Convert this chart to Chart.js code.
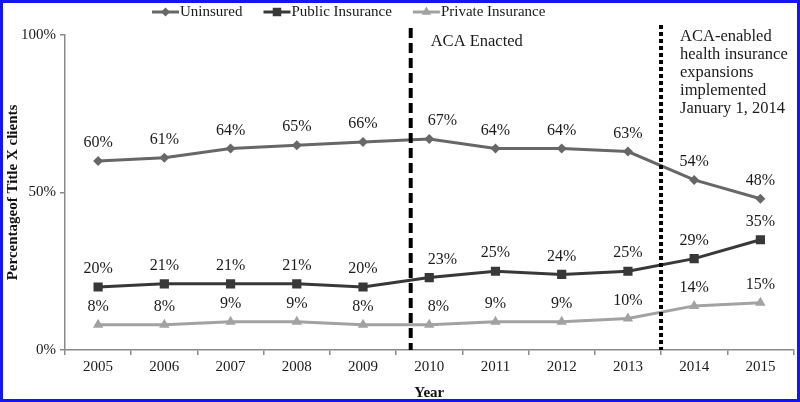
<!DOCTYPE html>
<html>
<head>
<meta charset="utf-8">
<script src="https://cdn.jsdelivr.net/npm/chart.js@4"></script>
<style>
html,body{margin:0;padding:0;background:#fff;}
#wrap{position:relative;width:800px;height:402px;overflow:hidden;}
#frame{position:absolute;left:0;top:0;width:800px;height:402px;box-sizing:border-box;border:3px solid #1414f5;pointer-events:none;}
canvas{display:block;}
</style>
</head>
<body>
<div id="wrap"><canvas id="c" width="800" height="402"></canvas><div id="frame"></div></div>
<script>
// ---- data ----
const years = ['2005','2006','2007','2008','2009','2010','2011','2012','2013','2014','2015'];
const uninsured = [60, 61, 64, 65, 66, 67, 64, 64, 63, 54, 48];
const publicInsurance = [20, 21, 21, 21, 20, 23, 25, 24, 25, 29, 35];
const privateInsurance = [8, 8, 9, 9, 8, 8, 9, 9, 10, 14, 15];
const seriesNames = ['Uninsured', 'Public Insurance', 'Private Insurance'];
const yTickValues = [0, 50, 100];
const acaEnactedIndex = 4.72;      // between 2009 and 2010
const acaEnactedText = ['ACA Enacted'];
const expansionIndex = 8.5;        // between 2013 and 2014
const expansionText = ['ACA-enabled', 'health insurance', 'expansions', 'implemented', 'January 1, 2014'];

// ---- styles ----
const serif = '"Liberation Serif", "Times New Roman", serif';
const colors = ['#676767', '#383838', '#a2a2a2'];
const markers = ['rectRot', 'rect', 'triangle'];
const radii = [5, 6.5, 6];
const axisColor = '#8a8a8a';
let lineXs = [];

function drawMarker(ctx, style, x, y, r) {
  ctx.beginPath();
  if (style === 'rectRot') {
    ctx.moveTo(x, y - r); ctx.lineTo(x + r, y); ctx.lineTo(x, y + r); ctx.lineTo(x - r, y);
  } else if (style === 'rect') {
    const s = r * Math.SQRT1_2;
    ctx.rect(x - s, y - s, 2 * s, 2 * s);
  } else {
    const w = r * Math.sqrt(3) / 2;
    ctx.moveTo(x, y - r); ctx.lineTo(x + w, y + r / 2); ctx.lineTo(x - w, y + r / 2);
  }
  ctx.closePath();
  ctx.fill();
}

const legendPlugin = {
  id: 'customLegend',
  afterDraw(chart) {
    const ctx = chart.ctx;
    ctx.save();
    ctx.font = '15px ' + serif;
    ctx.textBaseline = 'middle';
    ctx.textAlign = 'left';
    let x = 152;
    const y = 12;
    chart.data.datasets.forEach((ds, i) => {
      ctx.strokeStyle = colors[i];
      ctx.fillStyle = colors[i];
      ctx.lineWidth = 3;
      ctx.beginPath(); ctx.moveTo(x, y); ctx.lineTo(x + 27, y); ctx.stroke();
      drawMarker(ctx, markers[i], x + 13.5, y, radii[i] - 0.5);
      ctx.fillStyle = '#1a1a1a';
      ctx.fillText(ds.label, x + 28, y);
      x += 28 + ctx.measureText(ds.label).width + 21;
    });
    ctx.restore();
  }
};

const annotationPlugin = {
  id: 'acaLines',
  afterDatasetsDraw(chart) {
    const ctx = chart.ctx;
    const xs = chart.scales.x;
    const area = chart.chartArea;
    const posAt = (idx) => {
      const i0 = Math.floor(idx);
      const p0 = xs.getPixelForValue(i0), p1 = xs.getPixelForValue(i0 + 1);
      return p0 + (idx - i0) * (p1 - p0);
    };
    const items = [
      { x: posAt(acaEnactedIndex), top: area.top - 7, dash: [10, 5], text: acaEnactedText, tx: 20, ty: 7 },
      { x: posAt(expansionIndex), top: area.top - 10, dash: [4, 3], text: expansionText, tx: 19, ty: 2 }
    ];
    lineXs = items.map(it => it.x);
    ctx.save();
    items.forEach(it => {
      ctx.strokeStyle = '#000';
      ctx.lineWidth = 4;
      ctx.setLineDash(it.dash);
      ctx.beginPath(); ctx.moveTo(it.x, it.top); ctx.lineTo(it.x, area.bottom); ctx.stroke();
      ctx.setLineDash([]);
      ctx.fillStyle = '#1a1a1a';
      ctx.font = '16.5px ' + serif;
      ctx.textAlign = 'left';
      ctx.textBaseline = 'middle';
      it.text.forEach((t, k) => ctx.fillText(t, it.x + it.tx, area.top + it.ty + k * 18));
    });
    ctx.restore();
  }
};

const dataLabelPlugin = {
  id: 'valueLabels',
  afterDatasetsDraw(chart) {
    const ctx = chart.ctx;
    ctx.save();
    ctx.font = '16px ' + serif;
    ctx.fillStyle = '#1a1a1a';
    ctx.textAlign = 'center';
    ctx.textBaseline = 'middle';
    chart.data.datasets.forEach((ds, i) => {
      const meta = chart.getDatasetMeta(i);
      meta.data.forEach((pt, j) => {
        const txt = ds.data[j] + '%';
        const w = ctx.measureText(txt).width;
        let cx = pt.x;
        lineXs.forEach(lx => {
          const d = pt.x - lx;
          if (d > 0 && d < 25 && cx - w / 2 < lx + 17) cx = lx + 17 + w / 2;
        });
        ctx.fillText(txt, cx, pt.y - 18);
      });
    });
    ctx.restore();
  }
};

const seriesData = [uninsured, publicInsurance, privateInsurance];

new Chart(document.getElementById('c'), {
  type: 'line',
  data: {
    labels: years,
    datasets: seriesData.map((d, i) => ({
      label: seriesNames[i],
      data: d,
      borderColor: colors[i],
      backgroundColor: colors[i],
      pointBackgroundColor: colors[i],
      pointBorderColor: colors[i],
      borderWidth: 3,
      pointStyle: markers[i],
      pointRadius: radii[i],
      pointBorderWidth: 0,
      tension: 0,
      fill: false
    }))
  },
  options: {
    responsive: false,
    animation: false,
    layout: { padding: { top: 35, right: 5, bottom: 0, left: 0 } },
    plugins: { legend: { display: false }, tooltip: { enabled: false } },
    scales: {
      x: {
        offset: true,
        grid: { offset: true, drawOnChartArea: false, drawTicks: true, tickLength: 5, color: axisColor, lineWidth: 1.5 },
        border: { color: axisColor, width: 1.5 },
        ticks: { font: { family: serif, size: 15 }, color: '#1a1a1a', padding: 3, maxRotation: 0, autoSkip: false },
        title: { display: true, text: 'Year', font: { family: serif, size: 15, weight: 'bold' }, color: '#111', padding: { top: 0, bottom: 0 } },
        afterFit: s => { s.height = 52; }
      },
      y: {
        min: 0, max: 100,
        afterBuildTicks: s => { s.ticks = yTickValues.map(v => ({ value: v })); },
        grid: { drawOnChartArea: false, drawTicks: true, tickLength: 5, color: axisColor, lineWidth: 1.5 },
        border: { color: axisColor, width: 1.5 },
        ticks: { callback: v => v + '%', font: { family: serif, size: 15 }, color: '#1a1a1a', padding: 4 },
        title: { display: true, text: 'Percentageof Title X clients', font: { family: serif, size: 15, weight: 'bold' }, color: '#111', padding: { top: 4, bottom: 0 } },
        afterFit: s => { s.width = 65; }
      }
    }
  },
  plugins: [annotationPlugin, dataLabelPlugin, legendPlugin]
});
</script>
</body>
</html>
